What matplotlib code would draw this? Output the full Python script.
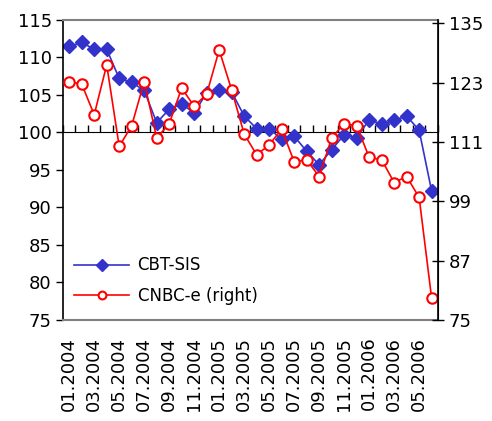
import numpy as np
import matplotlib.pyplot as plt

# monthly points, 01.2004 .. 06.2006
months = [f"{m:02d}.{y}" for y in (2004, 2005, 2006) for m in range(1, 13)][:30]
cbt_sis = [111.5, 112.0, 111.1, 111.1, 107.2, 106.7, 105.6, 101.3, 103.1, 103.8,
           102.6, 105.3, 105.6, 105.4, 102.2, 100.5, 100.5, 99.1, 99.5, 97.5,
           95.7, 97.7, 99.7, 99.3, 101.7, 101.1, 101.6, 102.2, 100.3, 92.2]
cnbc_e = [123.2, 122.7, 116.5, 126.6, 110.1, 114.3, 123.2, 111.8, 114.7, 121.9,
          118.2, 120.7, 129.6, 121.5, 112.6, 108.4, 110.4, 113.6, 107.0, 107.4,
          104.0, 111.8, 114.7, 114.3, 107.9, 107.4, 102.8, 104.0, 99.8, 79.4]
left_ticks = [75, 80, 85, 90, 95, 100, 105, 110, 115]
right_ticks = [75, 87, 99, 111, 123, 135]

BLUE = "#3333CC"
RED = "#FF0000"
plt.rcParams['font.family'] = ['DejaVu Sans']
plt.rcParams['font.size'] = 13

fig = plt.figure(figsize=(4.92, 4.21), dpi=100)
ax = fig.add_axes([0.128, 0.240, 0.762, 0.7125])
x = np.arange(len(months))

ax.plot(x, cbt_sis, color=BLUE, lw=1.2, marker="D", ms=7.5, mfc=BLUE, mec=BLUE,
        label="CBT-SIS")
ax.set_xlim(-0.5, len(months) - 0.5)
ax.set_ylim(75, 115)
ax.set_yticks(left_ticks)
ax.tick_params(axis="y", direction="out", length=5, width=1, pad=3)
ax.set_xticks(x[::2])
ax.set_xticklabels(months[::2], rotation=90)
ax.tick_params(axis="x", length=0, pad=12)
for s in ("top", "bottom"):
    ax.spines[s].set_color("#808080")
    ax.spines[s].set_linewidth(1.5)
ax.spines["left"].set_linewidth(1.2)

# category axis crossing at 100
cross = ax.secondary_xaxis((100 - 75) / (115 - 75))
cross.set_xticks(np.arange(-0.5, len(months), 1.0))
cross.set_xticklabels([])
cross.tick_params(direction="out", length=5, width=1, color="black")
cross.spines["bottom"].set_linewidth(1.2)

ax2 = ax.twinx()
ax2.plot(x, cnbc_e, color=RED, lw=1.2, marker="o", ms=7.5, mfc="white", mec=RED,
         mew=1.5, label="CNBC-e (right)")
ax2.set_ylim(75, 135.67)
ax2.set_yticks(right_ticks)
ax2.tick_params(axis="y", direction="inout", length=8, width=1, pad=4)
ax2.spines["right"].set_linewidth(1.2)
for s in ("top", "bottom", "left"):
    ax2.spines[s].set_visible(False)

h1, l1 = ax.get_legend_handles_labels()
h2, l2 = ax2.get_legend_handles_labels()
ax2.legend(h1 + h2, l1 + l2, loc="lower left", bbox_to_anchor=(-0.01, 0.0),
           frameon=False, handlelength=3.3, handletextpad=0.5, labelspacing=0.75,
           markerscale=0.75, fontsize=12)

fig.savefig("out.png", dpi=100)
